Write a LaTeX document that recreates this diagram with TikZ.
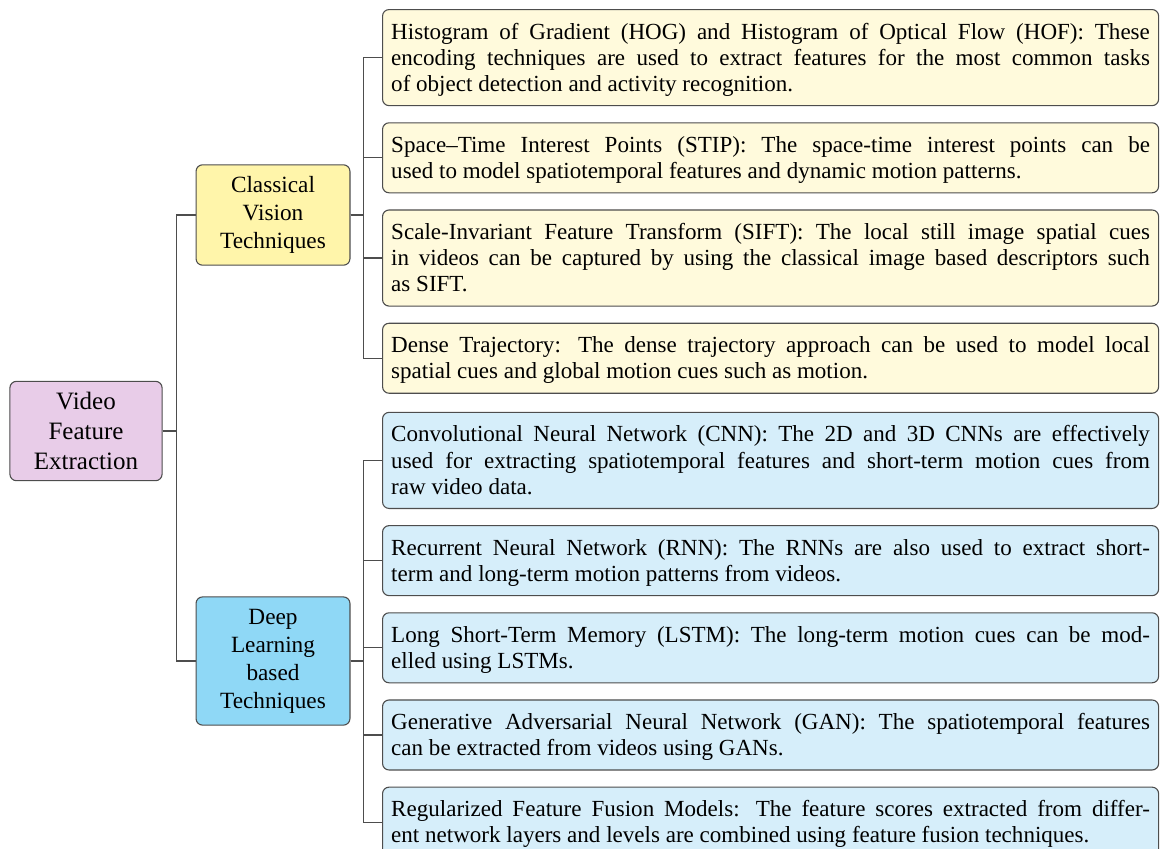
\documentclass[tikz,border=0pt]{standalone}
\usepackage{fontspec}
\setmainfont{Liberation Serif}
\usetikzlibrary{positioning}
\definecolor{vfroot}{HTML}{E8CCE8}
\definecolor{vfyellow}{HTML}{FFF5AA}
\definecolor{vfblue}{HTML}{8FD8F6}
\definecolor{vfyellowleaf}{HTML}{FFFADC}
\definecolor{vfblueleaf}{HTML}{D6EEFA}
\definecolor{vfgray}{HTML}{4D4D4D}

\begin{document}
\begin{tikzpicture}[
  x=0.46pt, y=-0.46pt,
  node distance=7.4pt,
  box/.style={draw=vfgray, line width=0.5pt, rounded corners=3pt},
  root/.style={box, fill=vfroot, font=\fontsize{11.5}{13.8}\selectfont, align=center,
               text width=60pt, inner xsep=5pt, inner ysep=5pt, text height=8pt},
  branch/.style={box, align=center, font=\fontsize{10.7}{12.8}\selectfont,
                 text width=60pt, inner xsep=5.4pt, inner ysep=5.5pt, text height=7.3pt},
  leaf/.style={box, align=justify, font=\fontsize{10.6}{12}\selectfont,
               text width=349pt, inner xsep=4pt, inner ysep=3pt,
               text height=10.6pt, execute at end node=\strut},
  link/.style={draw=vfgray, line width=0.5pt},
]
\useasboundingbox (0,0) rectangle (1162,848);

%% Raiz y ramas
\node[root] (video) at (86,431) {Video\\Feature\\Extraction};
\node[branch, fill=vfyellow] (classical) at (273,215) {Classical\\Vision\\Techniques};
\node[branch, fill=vfblue]   (deep)      at (273,661) {Deep\\Learning\\based\\Techniques};

%% Hojas: tecnicas clasicas
\node[leaf, fill=vfyellowleaf, anchor=north west] (hog) at (382,9)
  {Histogram of Gradient (HOG) and Histogram of Optical Flow (HOF): These\linebreak
   encoding techniques are used to extract features for the most common tasks\linebreak
   of object detection and activity recognition.};
\node[leaf, fill=vfyellowleaf, below=of hog] (stip)
  {Space--Time Interest Points (STIP): The space-time interest points can be\linebreak
   used to model spatiotemporal features and dynamic motion patterns.};
\node[leaf, fill=vfyellowleaf, below=of stip] (sift)
  {Scale-Invariant Feature Transform (SIFT): The local still image spatial cues\linebreak
   in videos can be captured by using the classical image based descriptors such\linebreak
   as SIFT.};
\node[leaf, fill=vfyellowleaf, below=of sift] (dense)
  {Dense Trajectory: The dense trajectory approach can be used to model local\linebreak
   spatial cues and global motion cues such as motion.};

%% Hojas: aprendizaje profundo
\node[leaf, fill=vfblueleaf, below=8.3pt of dense] (cnn)
  {Convolutional Neural Network (CNN): The 2D and 3D CNNs are effectively\linebreak
   used for extracting spatiotemporal features and short-term motion cues from\linebreak
   raw video data.};
\node[leaf, fill=vfblueleaf, below=of cnn] (rnn)
  {Recurrent Neural Network (RNN): The RNNs are also used to extract short-\linebreak
   term and long-term motion patterns from videos.};
\node[leaf, fill=vfblueleaf, below=of rnn] (lstm)
  {Long Short-Term Memory (LSTM): The long-term motion cues can be mod-\linebreak
   elled using LSTMs.};
\node[leaf, fill=vfblueleaf, below=of lstm] (gan)
  {Generative Adversarial Neural Network (GAN): The spatiotemporal features\linebreak
   can be extracted from videos using GANs.};
\node[leaf, fill=vfblueleaf, below=of gan] (fusion)
  {Regularized Feature Fusion Models: The feature scores extracted from differ-\linebreak
   ent network layers and levels are combined using feature fusion techniques.};

%% Conectores en angulo recto
\foreach \branchnode in {classical,deep}
  \draw[link] (video.east) -- ++(6.4pt,0) |- (\branchnode.west);
\foreach \leafnode in {hog,stip,sift,dense}
  \draw[link] (classical.east) -- ++(6pt,0) |- (\leafnode.west);
\foreach \leafnode in {cnn,rnn,lstm,gan,fusion}
  \draw[link] (deep.east) -- ++(6pt,0) |- (\leafnode.west);

\end{tikzpicture}
\end{document}
